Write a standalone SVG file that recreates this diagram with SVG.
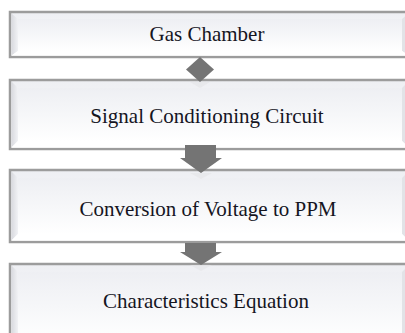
<svg xmlns="http://www.w3.org/2000/svg" width="405" height="333" viewBox="0 0 405 333">
<defs>
<linearGradient id="fillg" x1="0" y1="0" x2="0" y2="1">
<stop offset="0" stop-color="#eeeff3"/>
<stop offset="0.5" stop-color="#f6f7f9"/>
<stop offset="1" stop-color="#ffffff"/>
</linearGradient>
<linearGradient id="leftb" x1="0" y1="0" x2="1" y2="0">
<stop offset="0" stop-color="#d9dadf"/>
<stop offset="1" stop-color="#f1f2f5"/>
</linearGradient>
</defs>
<style>
.outer{fill:url(#fillg);stroke:#9c9c9c;stroke-width:2.5}
.bl{fill:url(#leftb)}
.bb{fill:#ffffff}
.br{fill:#e2e3e7}
.inner{fill:url(#fillg)}
.lbl{font-family:"Liberation Serif","Times New Roman",serif;font-size:21px;fill:#15151f;text-anchor:middle}
.conn{fill:#747474}
</style>
<g id="node-gas-chamber">
<rect class="outer" x="10" y="12" width="400" height="45"/>
<polygon class="bl" points="11.5,13.5 18,19 18,51 11.5,55.5"/>
<polygon class="br" points="408.5,13.5 402,19 402,51 408.5,55.5"/>
<rect class="inner" x="18" y="19" width="384" height="32"/>
<polygon class="bb" points="11.5,55.5 18,51 402,51 408.5,55.5"/>
<text class="lbl" x="207" y="41" font-family="Liberation Serif, serif">Gas Chamber</text>
</g>
<g id="node-signal-conditioning">
<rect class="outer" x="10" y="80" width="400" height="69"/>
<polygon class="bl" points="11.5,81.5 18,88 18,141 11.5,147.5"/>
<polygon class="br" points="408.5,81.5 402,88 402,141 408.5,147.5"/>
<rect class="inner" x="18" y="88" width="384" height="53"/>
<polygon class="bb" points="11.5,147.5 18,141 402,141 408.5,147.5"/>
<text class="lbl" x="207" y="123" font-family="Liberation Serif, serif">Signal Conditioning Circuit</text>
</g>
<g id="node-conversion">
<rect class="outer" x="10" y="170" width="400" height="72"/>
<polygon class="bl" points="11.5,171.5 18,178 18,234 11.5,240.5"/>
<polygon class="br" points="408.5,171.5 402,178 402,234 408.5,240.5"/>
<rect class="inner" x="18" y="178" width="384" height="56"/>
<polygon class="bb" points="11.5,240.5 18,234 402,234 408.5,240.5"/>
<text class="lbl" x="208" y="216" font-family="Liberation Serif, serif">Conversion of Voltage to PPM</text>
</g>
<g id="node-characteristics">
<rect class="outer" x="10" y="264" width="400" height="80"/>
<polygon class="bl" points="11.5,265.5 18,272 18,340 11.5,345"/>
<polygon class="br" points="408.5,265.5 402,272 402,340 408.5,345"/>
<rect class="inner" x="18" y="272" width="384" height="70"/>
<text class="lbl" x="206" y="308" font-family="Liberation Serif, serif">Characteristics Equation</text>
</g>
<g id="connectors">
<polygon points="190,82 200,82 210,82 200,88" fill="#e6e6e8" opacity="0.7"/>
<polygon class="conn" points="200,57 214,69.5 200,82 186,69.5"/>
<polygon points="190,173 201,173 212,173 201,179" fill="#e6e6e8" opacity="0.7"/>
<polygon class="conn" points="185,145 216,145 216,158 222,158 201,173 180,158 185,158"/>
<polygon points="190,265 201,265 212,265 201,271" fill="#e6e6e8" opacity="0.7"/>
<polygon class="conn" points="185,243 216,243 216,252 222,252 201,265 180,252 185,252"/>
</g>
</svg>
